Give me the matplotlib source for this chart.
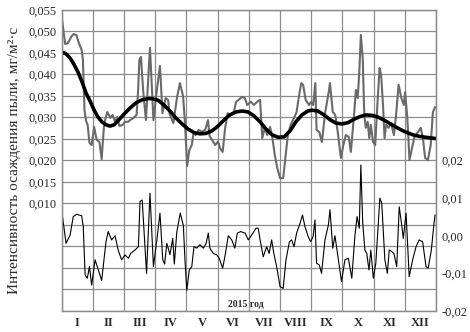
import numpy as np
import matplotlib
matplotlib.use('Agg')
import matplotlib.pyplot as plt

plt.rcParams['font.family'] = ['Liberation Serif', 'DejaVu Serif']

# dust deposition, time in months from 1 Jan 2015
raw_t = [0.0, 0.11, 0.2, 0.3, 0.38, 0.47, 0.55, 0.64, 0.68, 0.73, 0.78, 0.83, 0.89, 0.96,
         1.04, 1.12, 1.21, 1.28, 1.36, 1.46, 1.56, 1.63, 1.71, 1.78, 1.85, 1.96,
         2.03, 2.13, 2.19, 2.3, 2.4, 2.45, 2.49, 2.54, 2.61, 2.7, 2.83, 2.94,
         3.05, 3.15, 3.23, 3.33, 3.41, 3.46, 3.58, 3.7, 3.79, 3.89, 3.95,
         4.02, 4.09, 4.17, 4.23, 4.29, 4.39, 4.5, 4.6, 4.69, 4.74, 4.82, 4.92,
         5.01, 5.08, 5.16, 5.24, 5.32, 5.4, 5.51, 5.59, 5.67, 5.78, 5.87, 5.95,
         6.06, 6.16, 6.27, 6.36, 6.43, 6.51, 6.59, 6.68, 6.75, 6.83, 6.91,
         7.0, 7.1, 7.18, 7.25, 7.34, 7.45, 7.53, 7.61, 7.68, 7.74, 7.82, 7.93, 7.99,
         8.06, 8.13, 8.17, 8.26, 8.34, 8.45, 8.56, 8.6, 8.69, 8.77, 8.85, 8.95,
         9.03, 9.11, 9.2, 9.27, 9.38, 9.43, 9.49, 9.54, 9.59, 9.65, 9.7, 9.75, 9.81, 9.86, 9.91, 9.98,
         10.05, 10.12, 10.19, 10.24, 10.3, 10.35, 10.4, 10.48, 10.56, 10.65, 10.72, 10.8, 10.89, 10.97,
         11.01, 11.08, 11.15, 11.23, 11.31, 11.42, 11.51, 11.58, 11.65, 11.74, 11.83, 11.9, 11.97]
raw_val = [0.0534, 0.0471, 0.0473, 0.0487, 0.0494, 0.0492, 0.0473, 0.0457, 0.0434, 0.0317, 0.0292, 0.0283, 0.0241, 0.0236,
           0.0278, 0.0248, 0.0243, 0.0203, 0.0285, 0.0313, 0.0299, 0.0306, 0.0290, 0.0301, 0.0280, 0.0283,
           0.0290, 0.0290, 0.0294, 0.0299, 0.0306, 0.0364, 0.0434, 0.0441, 0.0364, 0.0294, 0.0462, 0.0294,
           0.0364, 0.0420, 0.0310, 0.0345, 0.0341, 0.0308, 0.0287, 0.0348, 0.0380, 0.0350, 0.0290,
           0.0187, 0.0224, 0.0236, 0.0266, 0.0259, 0.0271, 0.0267, 0.0271, 0.0294, 0.0257, 0.0248, 0.0236,
           0.0244, 0.0228, 0.0220, 0.0276, 0.0310, 0.0306, 0.0310, 0.0336, 0.0341, 0.0348, 0.0345, 0.0329,
           0.0337, 0.0329, 0.0337, 0.0341, 0.0252, 0.0276, 0.0259, 0.0278, 0.0255, 0.0213, 0.0183,
           0.0159, 0.0159, 0.0213, 0.0259, 0.0283, 0.0299, 0.0313, 0.0352, 0.0380, 0.0376, 0.0341, 0.0329, 0.0336,
           0.0329, 0.0380, 0.0271, 0.0266, 0.0243, 0.0313, 0.0359, 0.0380, 0.0313, 0.0306, 0.0266, 0.0206,
           0.0236, 0.0259, 0.0255, 0.0220, 0.0313, 0.0364, 0.0345, 0.0406, 0.0492, 0.0438, 0.0306, 0.0276, 0.0290, 0.0252, 0.0283, 0.0243,
           0.0236, 0.0329, 0.0415, 0.0399, 0.0329, 0.0252, 0.0283, 0.0276, 0.0287, 0.0259, 0.0306, 0.0376, 0.0345, 0.0329,
           0.0359, 0.0299, 0.0201, 0.0229, 0.0255, 0.0266, 0.0276, 0.0252, 0.0206, 0.0201, 0.0236, 0.0313, 0.0324]

trend_t = [0.0, 0.14, 0.27, 0.39, 0.52, 0.65, 0.78, 0.91, 1.04, 1.16, 1.29, 1.42, 1.55, 1.68, 1.8,
           2.0, 2.19, 2.38, 2.57, 2.77, 2.89, 3.09, 3.28, 3.47, 3.66, 3.86, 4.05, 4.24, 4.43, 4.62, 4.82,
           5.01, 5.2, 5.39, 5.59, 5.78, 5.97, 6.16, 6.36, 6.55, 6.74, 6.93, 7.13, 7.32, 7.51, 7.7, 7.89,
           8.02, 8.21, 8.41, 8.6, 8.79, 8.98, 9.18, 9.37, 9.56, 9.75, 9.95, 10.14, 10.33, 10.52, 10.71,
           10.91, 11.1, 11.29, 11.48, 11.67, 12.0]
trend_val = [0.0452, 0.0448, 0.0438, 0.0424, 0.0406, 0.0383, 0.0357, 0.0338, 0.0317, 0.0301, 0.0290, 0.0283, 0.0280, 0.0283, 0.0292,
             0.0308, 0.0322, 0.0334, 0.0341, 0.0344, 0.0344, 0.0340, 0.0329, 0.0315, 0.0299, 0.0285, 0.0273, 0.0265, 0.0262, 0.0263, 0.0269,
             0.0280, 0.0294, 0.0306, 0.0313, 0.0315, 0.0313, 0.0304, 0.0290, 0.0273, 0.0260, 0.0254, 0.0255, 0.0269, 0.0290, 0.0306, 0.0315,
             0.0317, 0.0315, 0.0306, 0.0295, 0.0287, 0.0285, 0.0288, 0.0296, 0.0302, 0.0306, 0.0305, 0.0301, 0.0294, 0.0286, 0.0278,
             0.0270, 0.0264, 0.0259, 0.0256, 0.0254, 0.0251]

# deviation from trend (right axis)
dev_t = [0.0, 0.14, 0.27, 0.37, 0.48, 0.64, 0.69, 0.75, 0.82, 0.89, 0.96, 1.07, 1.21, 1.28, 1.42, 1.49,
         1.6, 1.71, 1.81, 1.92, 2.03, 2.14, 2.21, 2.35, 2.46, 2.51, 2.58, 2.72, 2.83, 2.94,
         3.05, 3.15, 3.24, 3.3, 3.37, 3.47, 3.56, 3.61, 3.69, 3.8, 3.9, 3.95,
         4.01, 4.09, 4.17, 4.24, 4.33, 4.43, 4.54, 4.63, 4.7, 4.75, 4.86, 4.97,
         5.05, 5.16, 5.23, 5.34, 5.45, 5.55, 5.63, 5.74, 5.88, 5.98,
         6.09, 6.23, 6.3, 6.36, 6.46, 6.57, 6.65, 6.73, 6.8, 6.89,
         7.0, 7.1, 7.19, 7.3, 7.37, 7.45, 7.53, 7.64, 7.72, 7.8, 7.9, 7.98,
         8.06, 8.12, 8.17, 8.26, 8.33, 8.44, 8.55, 8.6, 8.69, 8.76, 8.87, 8.97,
         9.08, 9.19, 9.3, 9.4, 9.47, 9.54, 9.59, 9.65, 9.72, 9.78, 9.85, 9.91, 9.99,
         10.07, 10.2, 10.26, 10.36, 10.44, 10.5, 10.58, 10.65, 10.74, 10.82, 10.9, 10.95,
         11.04, 11.14, 11.25, 11.36, 11.46, 11.57, 11.68, 11.75, 11.85, 11.93, 11.97]
dev_val = [0.0066, -0.0020, 0.0002, 0.0051, 0.0057, 0.0053, 0.0025, -0.0104, -0.0113, -0.0082, -0.0131, -0.0064, -0.0100, -0.0119, -0.0016, 0.0011,
           -0.0011, 0.0000, -0.0038, -0.0064, -0.0051, -0.0060, -0.0047, -0.0038, -0.0029, 0.0091, 0.0095, -0.0100, 0.0113, -0.0082,
           -0.0011, 0.0060, -0.0064, -0.0075, -0.0020, -0.0050, -0.0007, -0.0075, 0.0010, 0.0060, 0.0027, -0.0062,
           -0.0145, -0.0091, -0.0082, -0.0029, -0.0033, -0.0024, -0.0033, -0.0020, 0.0007, -0.0033, -0.0047, -0.0051,
           -0.0060, -0.0086, -0.0056, 0.0000, -0.0011, -0.0033, 0.0007, 0.0011, 0.0007, -0.0011,
           0.0002, 0.0020, 0.0020, -0.0011, -0.0056, -0.0029, -0.0047, -0.0011, -0.0047, -0.0082,
           -0.0135, -0.0140, -0.0064, -0.0016, -0.0011, -0.0029, 0.0007, 0.0033, 0.0055, 0.0024, -0.0002, -0.0016,
           -0.0002, 0.0042, -0.0073, -0.0078, -0.0100, -0.0011, 0.0029, 0.0069, -0.0033, 0.0000, -0.0064, -0.0122,
           -0.0064, -0.0060, -0.0113, 0.0000, 0.0051, 0.0020, 0.0188, 0.0034, -0.0038, -0.0047, -0.0091, -0.0038, -0.0113,
           -0.0073, 0.0100, 0.0087, -0.0064, -0.0100, -0.0038, -0.0042, -0.0047, -0.0082, 0.0077, 0.0029, -0.0007,
           0.0060, -0.0109, -0.0064, -0.0029, -0.0011, -0.0016, -0.0082, -0.0086, -0.0038, 0.0029, 0.0055]

months = ['I', 'II', 'III', 'IV', 'V', 'VI', 'VII', 'VIII', 'IX', 'X', 'XI', 'XII']
left_ticks = [0.010, 0.015, 0.020, 0.025, 0.030, 0.035, 0.040, 0.045, 0.050, 0.055]
right_ticks = [-0.02, -0.01, 0.00, 0.01, 0.02]

grid_col = '#8c8c8c'
txt_col = '#2a2a2a'

fig = plt.figure(figsize=(4.7, 3.32), dpi=100)
ax = fig.add_axes([0.1313, 0.0633, 0.7964, 0.9066])
ax2 = ax.twinx()

ax.set_xlim(0, 12)
ax.set_ylim(-0.015, 0.055)
ax2.set_ylim(-0.02, 0.06)

# grid every 0.005, only upper values are labelled
grid_y = np.arange(-0.015, 0.0551, 0.005)
ax.set_yticks(grid_y)
ax.set_yticklabels(['' if v < 0.0099 else ('%.3f' % v).replace('.', ',') for v in grid_y])
ax.set_xticks(range(13))
ax.set_xticklabels([''] * 13)
ax.set_xticks([i + 0.5 for i in range(12)], minor=True)
ax.set_xticklabels(months, minor=True, fontweight='bold', fontsize=9, color=txt_col)
ax.grid(True, color=grid_col, linewidth=0.9)
ax.tick_params(axis='both', which='both', length=0)
ax.tick_params(axis='y', labelsize=9, labelcolor=txt_col, pad=4)
ax.tick_params(axis='x', which='minor', pad=4)

ax2.set_yticks(right_ticks)
ax2.set_yticklabels([('%.2f' % v).replace('.', ',') if v != 0 else '0,00' for v in right_ticks])
ax2.tick_params(axis='y', length=0, labelsize=9, labelcolor=txt_col, pad=4)

for a in (ax, ax2):
    for s in a.spines.values():
        s.set_color(grid_col)
        s.set_linewidth(0.9)

ax.plot(raw_t, raw_val, color='#6a6a6a', linewidth=1.5, zorder=3)
ax.plot(trend_t, trend_val, color='black', linewidth=2.6, zorder=4)
ax2.plot(dev_t, dev_val, color='black', linewidth=0.8)

ax.set_ylabel('Интенсивность осаждения пыли, мг/м²·с', fontsize=11, color=txt_col, labelpad=5)
ax.text(0.492, 0.02, '2015 год', transform=ax.transAxes, ha='center', va='center',
        fontsize=7, fontweight='bold', color=txt_col)

fig.savefig('out.png', dpi=100, facecolor='white')
